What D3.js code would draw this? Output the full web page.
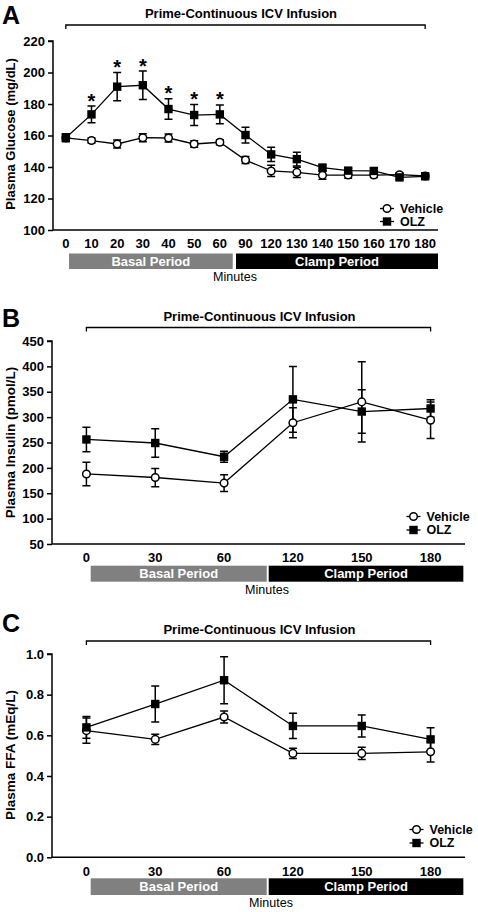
<!DOCTYPE html>
<html><head><meta charset="utf-8">
<script src="https://cdn.jsdelivr.net/npm/d3@7"></script>
<style>
html,body{margin:0;padding:0;background:#fff;}
svg{display:block;font-family:"Liberation Sans",Arial,Helvetica,sans-serif;}
</style></head>
<body>
<svg id="chart" width="478" height="912"></svg>
<script>
// ---------- DATA ----------
const glucoseTimes = ["0","10","20","30","40","50","60","90","120","130","140","150","160","170","180"];
const glucoseVehicle    = [158.5,156.8,154.6,158.6,158.4,154.6,155.7,144.4,137.5,136.6,134.8,134.9,134.9,135.1,134.3];
const glucoseVehicleSEM = [2,1.6,2.5,2.5,2.5,2,1.6,2.2,3.6,3.2,2.6,2,1.6,1.2,1.2];
const glucoseOLZ        = [158.6,173.4,191.0,191.9,176.8,173.0,173.4,160.3,148.0,145.0,139.6,137.7,137.5,133.4,134.1];
const glucoseOLZSEM     = [2.5,5.3,9,9,6.5,6.7,6,5,4.5,4.4,2,1.5,1.5,1.2,1.2];
const glucoseSig        = [0,1,1,1,1,1,1,0,0,0,0,0,0,0,0];
const glucoseTicks = [100,120,140,160,180,200,220];

const insulinTimes = ["0","30","60","120","150","180"];
const insulinVehicle    = [188,181,170,289,330,294];
const insulinVehicleSEM = [23,18,16.5,29.5,79,36];
const insulinOLZ        = [256,249,222,335,311,317];
const insulinOLZSEM     = [24,28,11,65,43,17];
const insulinTicks = [50,100,150,200,250,300,350,400,450];

const ffaTimes = ["0","30","60","120","150","180"];
const ffaVehicle    = [0.623,0.580,0.690,0.511,0.511,0.519];
const ffaVehicleSEM = [0.062,0.025,0.03,0.025,0.03,0.05];
const ffaOLZ        = [0.639,0.754,0.871,0.646,0.646,0.580];
const ffaOLZSEM     = [0.053,0.088,0.116,0.062,0.054,0.057];
const ffaTicks = [0.0,0.2,0.4,0.6,0.8,1.0];

const seriesNames = ["Vehicle","OLZ"];
const bracketLabel = "Prime-Continuous ICV Infusion";
const periodLabels = ["Basal Period","Clamp Period"];
const xTitle = "Minutes";

// ---------- LAYOUT ----------
const svg = d3.select("#chart");
const FONT = "'Liberation Sans',Arial,Helvetica,sans-serif";

function panel(cfg){
  const g = svg.append("g");
  const x = d3.scaleBand().domain(cfg.times).range([cfg.left, cfg.right]);
  const cx = d => x(d) + x.bandwidth()/2;
  const y = d3.scaleLinear().domain(cfg.domain).range([cfg.bottom, cfg.top]);

  // panel letter
  g.append("text").attr("x",2).attr("y",cfg.letterY).text(cfg.letter)
    .attr("font-size",25).attr("font-weight","bold").attr("fill","#000");

  // bracket + title
  const bx0 = cx(cfg.times[0]), bx1 = cx(cfg.times[cfg.times.length-1]);
  g.append("path").attr("d",`M${bx0},${cfg.bracketY+4}V${cfg.bracketY}H${bx1}V${cfg.bracketY+4}`)
    .attr("fill","none").attr("stroke","#000").attr("stroke-width",1.3);
  g.append("text").attr("x",cfg.titleX).attr("y",cfg.bracketY-7).attr("text-anchor","middle")
    .attr("font-size",13).attr("font-weight","bold").text(bracketLabel);

  // y axis
  const ya = d3.axisLeft(y).tickValues(cfg.ticks).tickSize(5).tickPadding(3).tickFormat(cfg.fmt);
  const yg = g.append("g").attr("transform",`translate(${cfg.left},0)`).call(ya);
  yg.select(".domain").attr("d",`M-5,${y(cfg.domain[1])}H0V${cfg.bottom}`).attr("stroke-width",1.5);
  yg.selectAll(".tick line").attr("stroke-width",1.5);
  yg.selectAll("text").attr("font-size",13).attr("font-weight","bold").attr("font-family",FONT).attr("fill","#000");

  // x axis (no tick marks)
  const xa = d3.axisBottom(x).tickSize(0).tickPadding(9);
  const xg = g.append("g").attr("transform",`translate(0,${cfg.bottom})`).call(xa);
  xg.select(".domain").attr("d",`M${cfg.left},0H${cfg.right}`).attr("stroke-width",1.5);
  xg.selectAll("text").attr("font-size",13).attr("font-weight","bold").attr("font-family",FONT).attr("fill","#000");

  // y title
  g.append("text").attr("transform",`translate(${cfg.yTitleX},${cfg.yTitleY}) rotate(-90)`)
    .attr("text-anchor","middle").attr("font-size",cfg.yTitleSize).attr("font-weight","bold").text(cfg.yTitle);

  // period bars (as fractions of axis width)
  const w = cfg.right - cfg.left;
  const bars = [
    {f0:cfg.basal[0], f1:cfg.basal[1], fill:"#808080", label:periodLabels[0]},
    {f0:cfg.clamp[0], f1:cfg.clamp[1], fill:"#000000", label:periodLabels[1]}
  ];
  bars.forEach(b=>{
    const x0 = cfg.left + b.f0*w, x1 = cfg.left + b.f1*w;
    g.append("rect").attr("x",x0).attr("y",cfg.barY).attr("width",x1-x0).attr("height",cfg.barH).attr("fill",b.fill);
    g.append("text").attr("x",(x0+x1)/2).attr("y",cfg.barY+cfg.barH/2+4.5).attr("text-anchor","middle")
      .attr("font-size",13).attr("font-weight","bold").attr("fill","#fff").text(b.label);
  });
  g.append("text").attr("x",cfg.minutesX).attr("y",cfg.barY+cfg.barH+12).attr("text-anchor","middle")
    .attr("font-size",12.5).attr("fill","#000").text(xTitle);

  // series
  const series = [
    {name:seriesNames[0], vals:cfg.vehicle, sem:cfg.vehicleSEM, shape:"circle"},
    {name:seriesNames[1], vals:cfg.olz, sem:cfg.olzSEM, shape:"square"}
  ];
  const line = d3.line().x((d,i)=>cx(cfg.times[i])).y(d=>y(d));
  series.forEach(s=>{
    g.append("path").datum(s.vals).attr("d",line).attr("fill","none").attr("stroke","#000").attr("stroke-width",1.3);
  });
  series.forEach(s=>{
    s.vals.forEach((v,i)=>{
      const px = cx(cfg.times[i]);
      const yt = y(v+s.sem[i]), yb = y(v-s.sem[i]);
      g.append("path").attr("d",`M${px},${yt}V${yb}M${px-4},${yt}H${px+4}M${px-4},${yb}H${px+4}`)
        .attr("stroke","#000").attr("stroke-width",1.5).attr("fill","none");
    });
  });
  function marker(shape, px, py){
    if(shape==="circle"){
      g.append("circle").attr("cx",px).attr("cy",py).attr("r",3.8).attr("fill","#fff").attr("stroke","#000").attr("stroke-width",1.5);
    } else {
      g.append("rect").attr("x",px-4.2).attr("y",py-4.2).attr("width",8.4).attr("height",8.4).attr("fill","#000");
    }
  }
  series.forEach(s=>{
    s.vals.forEach((v,i)=> marker(s.shape, cx(cfg.times[i]), y(v)));
  });

  // significance stars
  if(cfg.sig){
    cfg.sig.forEach((f,i)=>{
      if(!f) return;
      const px = cx(cfg.times[i]);
      g.append("text").attr("x",px).attr("y",y(cfg.olz[i]+cfg.olzSEM[i])+1.5).attr("text-anchor","middle")
        .attr("font-size",20).attr("font-weight","bold").text("*");
    });
  }

  // legend
  series.forEach((s,i)=>{
    const ly = cfg.legendY + i*cfg.legendGap;
    g.append("path").attr("d",`M${cfg.legendX-7},${ly}H${cfg.legendX+7}`).attr("stroke","#000").attr("stroke-width",1.3);
    marker(s.shape, cfg.legendX, ly);
    g.append("text").attr("x",cfg.legendX+13).attr("y",ly+4.3).attr("font-size",12.5).attr("font-weight","bold").text(s.name);
  });
}

panel({
  letter:"A", letterY:24, times:glucoseTimes, domain:[100,220], ticks:glucoseTicks, fmt:d3.format("d"),
  left:53, right:438, top:41, bottom:230, bracketY:25, titleX:241,
  yTitle:"Plasma Glucose (mg/dL)", yTitleX:15, yTitleY:134, yTitleSize:13,
  basal:[0.0416,0.4668], clamp:[0.4753,1.0], barY:253.5, barH:15.5, minutesX:235,
  vehicle:glucoseVehicle, vehicleSEM:glucoseVehicleSEM, olz:glucoseOLZ, olzSEM:glucoseOLZSEM, sig:glucoseSig,
  legendX:387, legendY:208.5, legendGap:13
});
panel({
  letter:"B", letterY:327, times:insulinTimes, domain:[50,450], ticks:insulinTicks, fmt:d3.format("d"),
  left:52, right:465, top:341, bottom:544, bracketY:327.5, titleX:259.5,
  yTitle:"Plasma Insulin (pmol/L)", yTitleX:15, yTitleY:442.5, yTitleSize:13.5,
  basal:[0.0937,0.5199], clamp:[0.5247,0.996], barY:565.7, barH:16, minutesX:267,
  vehicle:insulinVehicle, vehicleSEM:insulinVehicleSEM, olz:insulinOLZ, olzSEM:insulinOLZSEM,
  legendX:413.5, legendY:516.5, legendGap:13.5
});
panel({
  letter:"C", letterY:632, times:ffaTimes, domain:[0,1], ticks:ffaTicks, fmt:d3.format(".1f"),
  left:52, right:465, top:654, bottom:857.3, bracketY:641, titleX:259.5,
  yTitle:"Plasma FFA (mEq/L)", yTitleX:15, yTitleY:755, yTitleSize:13.5,
  basal:[0.0937,0.5199], clamp:[0.5247,0.996], barY:878.3, barH:16.7, minutesX:271,
  vehicle:ffaVehicle, vehicleSEM:ffaVehicleSEM, olz:ffaOLZ, olzSEM:ffaOLZSEM,
  legendX:416.5, legendY:829.5, legendGap:13.5
});
</script>
</body></html>
